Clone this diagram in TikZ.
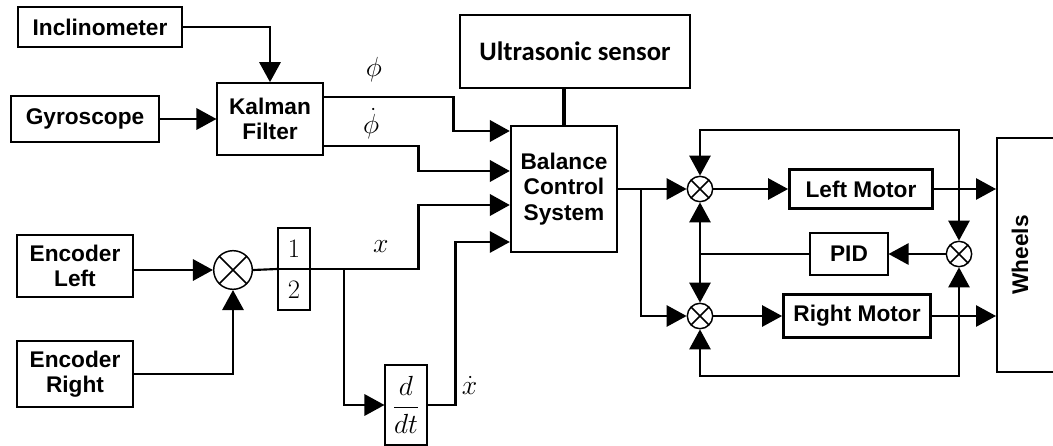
\documentclass[tikz,border=0pt]{standalone}
\usepackage{amsmath}
\usepackage{fontspec}
\setsansfont{Liberation Sans}
\newfontfamily\ultrafont{Carlito}
\usetikzlibrary{arrows.meta}
\usetikzlibrary{shapes.multipart}

\begin{document}
\begin{tikzpicture}[
  x=0.75pt,y=-0.75pt,
  blocknode/.style={draw,line width=1.3pt,inner sep=0pt,align=center,font=\sffamily\bfseries\fontsize{17}{19}\selectfont},
  motornode/.style={blocknode,line width=2.4pt},
  sumnode/.style={circle,draw,line width=1.1pt,inner sep=0pt,minimum size=#1,
    path picture={\draw[line width=1.1pt] (path picture bounding box.north west) -- (path picture bounding box.south east)
      (path picture bounding box.north east) -- (path picture bounding box.south west);}},
  sumnode/.default=19pt,
  mathlabel/.style={font=\fontsize{21}{24}\selectfont,inner sep=1pt},
  signal/.style={line width=1.6pt,-{Triangle[length=15pt,width=16pt]}},
  thinsignal/.style={line width=1.3pt,-{Triangle[length=15pt,width=16pt]}},
  busline/.style={line width=2.2pt},
  feedback/.style={line width=1.3pt,{Triangle[length=15pt,width=16pt]}-{Triangle[length=15pt,width=16pt]}}
]
\useasboundingbox (0,0) rectangle (1053,446);

% sensors and filter
\node[blocknode,minimum width=123pt,minimum height=30pt] (incl) at (100,27) {Inclinometer};
\node[blocknode,minimum width=111pt,minimum height=34pt] (gyro) at (85,119) {Gyroscope};
\node[blocknode,minimum width=79pt,minimum height=54pt] (kalman) at (270,119) {Kalman\\Filter};
\node[blocknode,minimum width=172pt,minimum height=55pt,font=\ultrafont\bfseries\fontsize{20}{22}\selectfont] (ultra) at (575,51.5) {Ultrasonic sensor};
\node[blocknode,minimum width=80pt,minimum height=94pt] (balance) at (564,189) {Balance\\Control\\System};

% encoders
\node[blocknode,minimum width=87pt,minimum height=47pt] (encl) at (75,266) {Encoder\\Left};
\node[blocknode,minimum width=87pt,minimum height=49pt] (encr) at (75,374) {Encoder\\Right};
\node[sumnode=29pt] (encsum) at (233,270) {};
\node[draw,rectangle split,rectangle split parts=2,line width=1.3pt,minimum width=24pt,inner ysep=8pt,font=\fontsize{20}{22}\selectfont] (half) at (294,269) {1\nodepart{two}2};
\node[draw,line width=1.3pt,minimum width=31pt,minimum height=60pt,inner sep=0pt,font=\fontsize{20}{22}\selectfont] (ddt) at (406,405) {$\dfrac{d}{dt}$};

% motors
\node[sumnode] (upsum) at (700,189) {};
\node[sumnode] (lowsum) at (700,316) {};
\node[sumnode] (fbsum) at (959,254) {};
\node[motornode,minimum width=107pt,minimum height=29pt] (lmotor) at (861,189) {Left Motor};
\node[blocknode,minimum width=58pt,minimum height=31pt] (pid) at (849,254) {PID};
\node[motornode,minimum width=110pt,minimum height=32pt] (rmotor) at (857,316) {Right Motor};
\node[draw,line width=1.6pt,minimum width=75pt,minimum height=176pt,anchor=west] (wheels) at (996,255) {};
\node[rotate=90,font=\sffamily\bfseries\fontsize{17}{19}\selectfont] (wheelstext) at (1020,255) {Wheels};

% left part
\draw[signal] (incl.east) -| (kalman.north);
\draw[signal] (gyro.east) -- (kalman.west);
\draw[signal,busline] ([yshift=16.5pt]kalman.east) -- node[mathlabel,above=9pt,xshift=-11pt] {$\phi$} ++(130,0) |- ([yshift=43.5pt]balance.west);
\draw[signal,busline] ([yshift=-20.25pt]kalman.east) -- node[mathlabel,above=3pt] {$\dot{\phi}$} ++(95,0) |- ([yshift=13.5pt]balance.west);
\draw[signal] (encl.east |- encsum.west) -- (encsum.west);
\draw[signal] (encr.east) -| (encsum.south);
\draw[line width=1.6pt] (encsum.east) -- (half.west);
\draw[signal,busline] (half.east) -- node[mathlabel,above=10pt,xshift=12pt] {$x$} ++(108,0) |- ([yshift=-12pt]balance.west);
\draw[signal] ([xshift=24.75pt]half.east) |- (ddt.west);
\draw[signal] (ddt.east) -- ++(28,0) |- node[mathlabel,pos=0.06,right=3pt] {$\dot{x}$} ([yshift=-39.75pt]balance.west);
\draw[line width=2.4pt] (ultra.south -| balance.north) -- (balance.north);

% right part
\draw[thinsignal] (balance.east) -- (upsum.west);
\draw[thinsignal] ([xshift=17.25pt]balance.east) |- (lowsum.west);
\draw[thinsignal] (upsum.east) -- (lmotor.west);
\draw[thinsignal] (lowsum.east) -- (rmotor.west);
\draw[thinsignal] (lmotor.east) -- (lmotor.east -| wheels.west);
\draw[thinsignal] (rmotor.east) -- (rmotor.east -| wheels.west);
\draw[thinsignal] (fbsum.west) -- (pid.east);
\draw[line width=1.3pt] (pid.west) -- (pid.west -| upsum.center);
\draw[thinsignal] (pid.west -| upsum.center) -- (upsum.south);
\draw[thinsignal] (pid.west -| upsum.center) -- (lowsum.north);
\draw[feedback] (upsum.north) -- ++(0,-45.5) -| (fbsum.north);
\draw[feedback] (lowsum.south) -- ++(0,46.5) -| (fbsum.south);

\end{tikzpicture}
\end{document}
